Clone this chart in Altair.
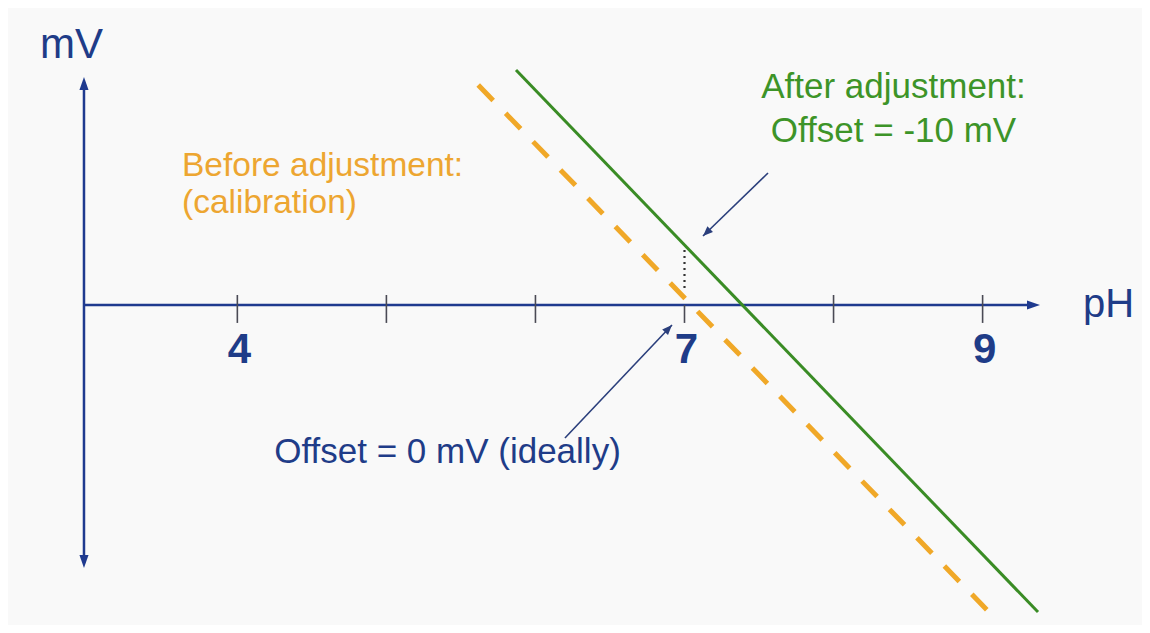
import altair as alt
import pandas as pd

# ---- data (pH on x, mV on y; schematic) ----
tick_ph = [4, 5, 6, 7, 8, 9]
label_ph = [4, 7, 9]
label_txt = ["4", "7", "9"]

before_ph = [5.616, 9.0295]      # orange dashed: before adjustment
before_mv = [84.6, -117.3]
after_ph = [5.8695, 9.3717]      # green: after adjustment
after_mv = [90.38, -118.08]

offset_ph = [7.0, 7.0]           # dotted offset marker at pH 7
offset_mv = [21.15, 5.0]

axis_ph = [2.9711, 9.385]        # x axis extent
axis_mv = [87.69, -101.15]       # y axis extent

# annotation arrows: tail -> head
arrow_tail_ph = [6.198, 7.5602]
arrow_tail_mv = [-51.15, 50.77]
arrow_head_ph = [6.916, 7.1241]
arrow_head_mv = [-7.69, 26.54]

NAVY = "#1f3a8f"
NAVY_T = "#1f3c88"
GREEN = "#3a8c25"
ORANGE = "#f0a828"
ARROW = "#2b3f7c"
FONT = "Liberation Sans"

xs = alt.Scale(domain=[2.4613, 10.0694], zero=False, nice=False)
ys = alt.Scale(domain=[-123.08, 114.23], zero=False, nice=False)

def X(f="x"):
    return alt.X(f"{f}:Q", scale=xs, axis=None)

def Y(f="y"):
    return alt.Y(f"{f}:Q", scale=ys, axis=None)

# axes
axes_df = pd.DataFrame({
    "x": [axis_ph[0], axis_ph[0]], "x2": [axis_ph[1] - 0.04, axis_ph[0]],
    "y": [0, axis_mv[0] - 2], "y2": [0, axis_mv[1] + 2],
})
axes = alt.Chart(axes_df).mark_rule(color=NAVY, strokeWidth=2.5).encode(
    x=X(), x2="x2:Q", y=Y(), y2="y2:Q")

heads_df = pd.DataFrame({
    "x": [axis_ph[1], axis_ph[0], axis_ph[0]],
    "y": [0, axis_mv[0], axis_mv[1]],
    "angle": [0, 270, 90],
})
heads = alt.Chart(heads_df).mark_point(
    shape="M0,0 L-2,-0.7 L-2,0.7 Z", filled=True, opacity=1, size=169,
    color=NAVY, strokeWidth=0).encode(
    x=X(), y=Y(), angle=alt.Angle("angle:Q", scale=None))

# ticks
tk_df = pd.DataFrame({
    "x": tick_ph,
    "y": [0 if p == 7 else 3.85 for p in tick_ph],
    "y2": [-6.9] * len(tick_ph),
})
ticks = alt.Chart(tk_df).mark_rule(color="#4a4a55", strokeWidth=1.6).encode(
    x=X(), y=Y(), y2="y2:Q")

lab_df = pd.DataFrame({"x": label_ph, "y": [0] * 3, "t": label_txt})
labels = alt.Chart(lab_df).mark_text(
    font=FONT, fontSize=42, fontWeight="bold", color=NAVY_T,
    baseline="alphabetic", align="center", dy=58, dx=2).encode(
    x=X(), y=Y(), text="t:N")

# lines
bef_df = pd.DataFrame({"x": before_ph, "y": before_mv})
before = alt.Chart(bef_df).mark_line(
    color=ORANGE, strokeWidth=5, strokeDash=[21.5, 17.9]).encode(x=X(), y=Y())
aft_df = pd.DataFrame({"x": after_ph, "y": after_mv})
after = alt.Chart(aft_df).mark_line(color=GREEN, strokeWidth=3).encode(x=X(), y=Y())

dot_df = pd.DataFrame({"x": [offset_ph[0]], "y": [offset_mv[0]], "y2": [offset_mv[1]]})
dotted = alt.Chart(dot_df).mark_rule(
    color="#333333", strokeWidth=2.2, strokeDash=[2, 4]).encode(
    x=X(), y=Y(), y2="y2:Q")

# annotation arrows
arr_df = pd.DataFrame({
    "x": arrow_tail_ph, "y": arrow_tail_mv,
    "x2": arrow_head_ph, "y2": arrow_head_mv,
})
arr_lines = alt.Chart(arr_df).mark_rule(color=ARROW, strokeWidth=1.6).encode(
    x=X(), x2="x2:Q", y=Y(), y2="y2:Q")
ah_df = pd.DataFrame({"x": arrow_head_ph, "y": arrow_head_mv, "angle": [313.4, 135.9]})
arr_heads = alt.Chart(ah_df).mark_point(
    shape="M0,0 L-2,-0.8 L-2,0.8 Z", filled=True, opacity=1, size=100,
    color=ARROW, strokeWidth=0).encode(
    x=X(), y=Y(), angle=alt.Angle("angle:Q", scale=None))

# texts
def txt(df, color, size, align, weight="normal"):
    return alt.Chart(df).mark_text(
        font=FONT, fontSize=size, color=color, align=align,
        baseline="alphabetic", fontWeight=weight).encode(x=X(), y=Y(), text="t:N")

t_mv = txt(pd.DataFrame({"x": [2.676], "y": [95.0], "t": ["mV"]}), NAVY_T, 42, "left")
t_ph = txt(pd.DataFrame({"x": [9.6734], "y": [-4.615], "t": ["pH"]}), NAVY_T, 40, "left")
t_before = txt(pd.DataFrame({"x": [3.6286, 3.6286], "y": [49.8, 35.2],
                             "t": ["Before adjustment:", "(calibration)"]}),
               "#eda631", 33.5, "left")
t_after = txt(pd.DataFrame({"x": [8.4022, 8.4022], "y": [79.62, 62.69],
                            "t": ["After adjustment:", "Offset = -10 mV"]}),
              "#3d9428", 35, "center")
t_off = txt(pd.DataFrame({"x": [5.41], "y": [-60.77], "t": ["Offset = 0 mV (ideally)"]}),
            NAVY_T, 35, "center")

chart = alt.layer(
    axes, ticks, dotted, before, after, heads, arr_lines, arr_heads,
    labels, t_mv, t_ph, t_before, t_after, t_off
).properties(
    width=1134, height=617,
    autosize=alt.AutoSizeParams(type="none"),
    padding=0, background="#f9f9f9",
).configure_view(stroke=None)

chart.save("out.html", embed_options={"renderer": "svg", "actions": False})
